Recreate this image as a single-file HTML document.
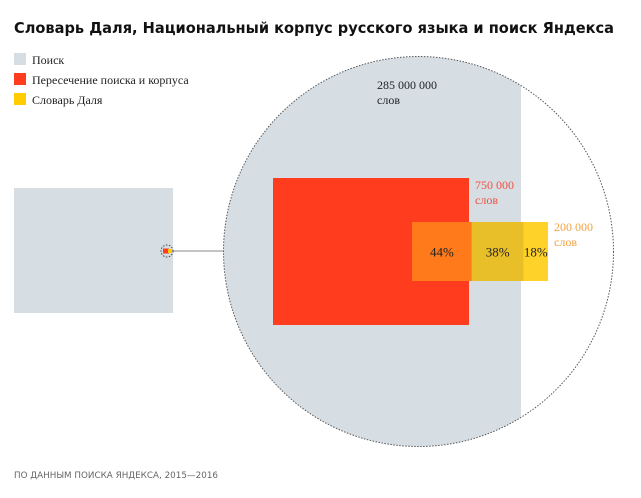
<!DOCTYPE html>
<html><head><meta charset="utf-8"><style>
body{margin:0;background:#fff;width:641px;height:493px;overflow:hidden;font-family:"Liberation Serif","Noto Serif CJK SC",serif}
</style></head><body>
<svg width="641" height="493" viewBox="0 0 641 493">
<text x="14" y="33" font-family="'DejaVu Sans','Liberation Sans',sans-serif" font-weight="bold" font-size="15.5" textLength="600" lengthAdjust="spacingAndGlyphs" fill="#111">Словарь Даля, Национальный корпус русского языка и поиск Яндекса</text>
<g font-size="12" fill="#222">
<rect x="14" y="53" width="12" height="12" fill="#d6dee4"/>
<text x="32" y="64">Поиск</text>
<rect x="14" y="73" width="12" height="12" fill="#ff3d1e"/>
<text x="32" y="84">Пересечение поиска и корпуса</text>
<rect x="14" y="93" width="12" height="12" fill="#ffcc00"/>
<text x="32" y="104">Словарь Даля</text>
</g>
<rect x="14" y="188" width="159" height="125" fill="#d6dee4"/>
<line x1="173" y1="251" x2="223" y2="251" stroke="#888" stroke-width="1"/>
<rect x="163" y="248.5" width="6" height="5" fill="#ff3d1e"/>
<rect x="168" y="249" width="4" height="4" fill="#ffcc00"/>
<circle cx="167" cy="251" r="6" fill="none" stroke="#444" stroke-width="1" stroke-dasharray="1.5,1.5"/>
<defs><clipPath id="cc"><circle cx="418.5" cy="251.5" r="195"/></clipPath></defs>
<rect x="222" y="55" width="299" height="395" fill="#d6dee4" clip-path="url(#cc)"/>
<circle cx="418.5" cy="251.5" r="195" fill="none" stroke="#555" stroke-width="1" stroke-dasharray="1.5,1.5"/>
<g id="marks"></g>
<text x="377" y="89" font-size="12" fill="#222">285 000 000</text>
<text x="377" y="104" font-size="12" fill="#222">слов</text>
<text x="475" y="189" font-size="12" fill="#f05040">750 000</text>
<text x="475" y="204" font-size="12" fill="#f05040">слов</text>
<text x="554" y="231" font-size="12" fill="#f5a040">200 000</text>
<text x="554" y="246" font-size="12" fill="#f5a040">слов</text>
<text x="14" y="478" font-family="'DejaVu Sans','Liberation Sans',sans-serif" font-size="8.5" textLength="204" lengthAdjust="spacingAndGlyphs" fill="#666">ПО ДАННЫМ ПОИСКА ЯНДЕКСА, 2015—2016</text>
</svg>
<script>
const segments = ["intersection-corpus","corpus-only","search-only"];
const percentLabels = ["44%","38%","18%"];
const percentValues = [44, 38, 18];
const ns = "http://www.w3.org/2000/svg";
const g = document.getElementById("marks");
const red = {x:273,y:178,w:196,h:147};
const yl = {x:412,y:222,h:59,w:136};
function mk(tag, attrs){const e=document.createElementNS(ns,tag);for(const k in attrs)e.setAttribute(k,attrs[k]);g.appendChild(e);return e;}
const r = mk("rect",{x:red.x,y:red.y,width:red.w,height:red.h,fill:"#ff3d1e"});


const total = percentValues.reduce((a,b)=>a+b,0);
const fills = ["#fe7a1a","#e8bf28","#ffd22a"];
let x0 = yl.x;
percentValues.forEach((v,i)=>{
  const w = yl.w * v / total;
  const s = mk("rect",{x:x0,y:yl.y,width:w,height:yl.h,fill:fills[i]});
  
  
  const t = mk("text",{x:x0+w/2,y:yl.y+yl.h/2+5,"text-anchor":"middle","font-size":"13",fill:"#222"});
  t.textContent = percentLabels[i];
  
  
  x0 += w;
});
</script>
</body></html>
